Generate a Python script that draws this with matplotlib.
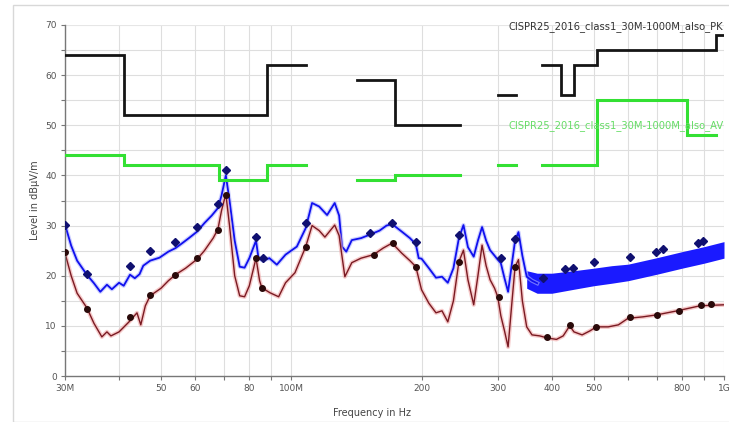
import numpy as np
import matplotlib
matplotlib.use("Agg")
import matplotlib.pyplot as plt
from matplotlib.patches import Rectangle

# ---------------- data ----------------
# Peak limit (black): segments (start MHz, end MHz, level dBµV/m); None = gap
pk_lim_start = [30, 41, 88, None, 142, 174, None, 300, None, 380, 420, 450, 510, 960]
pk_lim_end   = [41, 88, 108, None, 174, 245, None, 330, None, 420, 450, 510, 960, 1000]
pk_lim_level = [64, 52, 62, None, 59, 50, None, 56, None, 62, 56, 62, 65, 68]

# Average limit (green)
av_lim_start = [30, 41, 68, 88, None, 142, 174, None, 300, None, 380, 510, 820]
av_lim_end   = [41, 68, 88, 108, None, 174, 245, None, 330, None, 510, 820, 960]
av_lim_level = [44, 42, 39, 42, None, 39, 40, None, 42, None, 42, 55, 48]

# Peak trace (blue)
pk_freq = [30, 31, 32, 33.7, 35, 36.2, 37.5, 38.5, 40, 41, 42.4, 43.5, 44.6, 45.5,
           47.2, 49.6, 52, 54, 56, 58, 60.6, 63, 65.5, 67.7, 69, 70.6, 72, 74, 76,
           78, 80, 82.9, 84, 86, 89, 92.6, 97, 103, 108, 111.7, 116, 121, 126, 129,
           131, 134, 138, 145, 152, 160, 166, 171, 180, 188, 194, 197, 200, 208,
           216, 223, 230, 237, 244, 250, 256, 264, 270, 276, 282, 288, 295, 300,
           305, 311, 317, 323, 329, 335, 342, 350, 360, 370]
pk_level = [30.2, 26, 23, 20.2, 18.5, 16.8, 18.2, 17.3, 18.6, 18.0, 20.2, 19.5, 20.3, 22,
            23, 23.6, 24.8, 25.5, 26.5, 27.5, 28.8, 30.5, 32, 33.5, 36, 40, 35, 27, 21.8,
            21.6, 23.5, 27, 23.5, 23.0, 23.5, 22.2, 24.2, 25.8, 29.5, 34.5, 33.8, 32.1, 34.5, 32,
            25.8, 24.8, 27.1, 27.5, 28.2, 29, 30, 30.3, 28.8, 27.5, 26.3, 23.5, 23.4, 21.5,
            19.6, 19.8, 18.6, 21.5, 27.5, 30.1, 25.7, 23.8, 27, 29.7, 27, 25.1, 24, 23.2,
            22.5, 19.5, 16.8, 22, 27, 28.7, 24, 19.8, 19, 18.5]

# Peak trace noise band above 350 MHz
band_freq  = [350, 370, 400, 450, 500, 550, 600, 700, 800, 900, 1000]
band_low   = [17.5, 16.5, 16.5, 17.3, 18.0, 18.5, 19.0, 20.3, 21.5, 22.5, 23.5]
band_high  = [21.0, 20.5, 20.5, 21.0, 21.5, 22.0, 22.3, 23.6, 24.8, 25.8, 26.8]

# Average trace (dark red)
av_freq = [30, 31, 32, 33.7, 35, 36.5, 37.5, 38.3, 40, 42.4, 44, 44.9, 46, 47.2, 50, 52,
           54, 57, 60.6, 63, 66, 67.7, 69, 70.6, 72, 74, 76, 78, 80, 82.9, 84.5, 85.5,
           89.3, 93.5, 97, 102, 108, 111.7, 116, 119.6, 126, 129, 133, 138, 145, 155,
           163, 171, 180, 188, 194, 200, 208, 216, 223, 230, 237, 244, 250, 256, 264,
           270, 276, 282, 288, 295, 300, 305, 311, 317, 323, 329, 335, 342, 350, 360,
           375, 390, 410, 425, 440, 450, 470, 490, 507, 540, 570, 600, 650, 700, 780,
           880, 1000]
av_level = [24.5, 20, 16.5, 13.6, 10.5, 7.8, 8.8, 8.0, 8.8, 11.0, 12.6, 10.2, 14, 16.0, 17.5, 19,
            20.2, 21.5, 23.3, 25, 27.5, 29.3, 33, 36.3, 30, 20, 16, 15.8, 18, 23.5, 19, 17.6,
            16.6, 15.8, 18.6, 20.6, 25.8, 30, 29, 27.7, 30.1, 28, 19.8, 22.6, 23.5, 24.2,
            25.5, 26.5, 24.5, 23, 21.8, 17.2, 14.5, 12.6, 13, 10.8, 15, 22.8, 25.1, 19.2, 14.2,
            20, 26.1, 22, 19.2, 17.5, 15.8, 12, 9, 5.8, 14, 21.8, 23.2, 15, 9.8, 8.2,
            8, 7.6, 7.3, 8, 10, 8.8, 8.2, 9, 9.8, 9.8, 10.2, 11.5, 11.8, 12.2, 13,
            14, 14.2]

# Final measurement markers
pk_mark_freq  = [30, 33.7, 42.4, 47.2, 53.9, 60.6, 67.7, 70.6, 82.9, 86, 108, 152, 171,
                 194, 244, 305, 329, 382, 429, 447, 502, 606, 696, 724, 870, 895]
pk_mark_level = [30.2, 20.4, 22, 25, 26.7, 29.7, 34.3, 41, 27.7, 23.5, 30.5, 28.5, 30.5,
                 26.8, 28.1, 23.5, 27.3, 19.6, 21.4, 21.6, 22.8, 23.8, 24.8, 25.3, 26.5, 27]
av_mark_freq  = [30, 33.7, 42.4, 47.2, 53.9, 60.6, 67.7, 70.6, 82.9, 85.5, 108, 155, 171.5,
                 194, 244, 302, 329, 390, 440, 507, 608, 700, 786, 886, 933]
av_mark_level = [24.8, 13.4, 11.8, 16.2, 20.2, 23.6, 29.2, 36, 23.5, 17.6, 25.8, 24.2, 26.5,
                 21.8, 22.8, 15.8, 21.8, 7.8, 10.2, 9.8, 11.8, 12.2, 13, 14.2, 14.4]

x_ticks = [30, 40, 50, 60, 70, 80, 90, 100, 200, 300, 400, 500, 600, 700, 800, 900, 1000]
x_tick_labels = ["30M", "", "50", "60", "", "80", "", "100M", "200", "300", "400", "500",
                 "", "", "800", "", "1G"]
y_ticks = [0, 10, 20, 30, 40, 50, 60, 70]

pk_label = "CISPR25_2016_class1_30M-1000M_also_PK"
av_label = "CISPR25_2016_class1_30M-1000M_also_AV"


def limit_path(starts, ends, levels):
    xs, ys = [], []
    for s, e, l in zip(starts, ends, levels):
        if s is None:
            xs.append(np.nan); ys.append(np.nan)
            continue
        xs += [s, e]; ys += [l, l]
    return xs, ys


# ---------------- figure ----------------
W, H = 729, 422
fig = plt.figure(figsize=(W / 100, H / 100), dpi=100)
fig.patch.set_facecolor("white")
fig.patches.append(Rectangle((13 / W, 0), 1, 1 - 5 / H, transform=fig.transFigure,
                             fill=False, edgecolor="#d8d8d8", lw=1.0))

ax = fig.add_axes([65 / W, 1 - 376 / H, (724 - 65) / W, (376 - 25) / H])
ax.set_xscale("log")
ax.set_xlim(30, 1000)
ax.set_ylim(0, 70)

# grid
for f in x_ticks:
    ax.axvline(f, color="#dedede", lw=0.8, zorder=0)
for v in range(5, 70, 5):
    ax.axhline(v, color="#dedede", lw=0.8, zorder=0)
ax.axhline(70, color="#e6e6e6", lw=0.8, zorder=0)

# limits
xs, ys = limit_path(pk_lim_start, pk_lim_end, pk_lim_level)
ax.plot(xs, ys, color="#151515", lw=2.0, zorder=3, solid_joinstyle="miter")
xs, ys = limit_path(av_lim_start, av_lim_end, av_lim_level)
ax.plot(xs, ys, color="#33e033", lw=2.2, zorder=3, solid_joinstyle="miter")

# peak trace
ax.fill_between(band_freq, band_low, band_high, color="#1a1aff", lw=0, zorder=2)
ax.plot(pk_freq, pk_level, color="#aab0ff", lw=3.0, alpha=0.6, zorder=2)
ax.plot(pk_freq, pk_level, color="#1010ee", lw=1.3, zorder=2)

# average trace
ax.plot(av_freq, av_level, color="#f0a8a8", lw=3.0, alpha=0.6, zorder=2)
ax.plot(av_freq, av_level, color="#7a1a22", lw=1.0, zorder=2)

# markers
ax.plot(pk_mark_freq, pk_mark_level, linestyle="none", marker="D", ms=3.6,
        color="#101070", zorder=4)
ax.plot(av_mark_freq, av_mark_level, linestyle="none", marker="o", ms=4.0,
        color="#2a0a0a", zorder=4)

# labels on limits
ax.text(317, 69.6, pk_label, fontsize=7.2, color="#333333", va="center", ha="left",
        clip_on=False, zorder=5)
ax.text(317, 50.0, av_label, fontsize=7.2, color="#66dd66", va="center", ha="left",
        clip_on=False, zorder=5)

# axes styling
ax.set_xticks(x_ticks)
ax.set_xticklabels(x_tick_labels)
ax.xaxis.set_minor_locator(matplotlib.ticker.NullLocator())
ax.set_yticks(y_ticks)
ax.set_yticks(range(5, 70, 10), minor=True)
ax.tick_params(axis="both", which="both", direction="out", length=3, width=0.8,
               color="#777777", labelsize=6.5, labelcolor="#555555", pad=3)
for side in ["top", "right"]:
    ax.spines[side].set_visible(False)
for side in ["left", "bottom"]:
    ax.spines[side].set_color("#777777")
    ax.spines[side].set_linewidth(1.0)

fig.text(372 / W, 1 - 413 / H, "Frequency in Hz", fontsize=7, color="#444444",
         ha="center", va="center")
fig.text(35 / W, 1 - 200 / H, "Level in dBµV/m", fontsize=7, color="#444444",
         ha="center", va="center", rotation=90)

fig.savefig("out.png", dpi=100)
